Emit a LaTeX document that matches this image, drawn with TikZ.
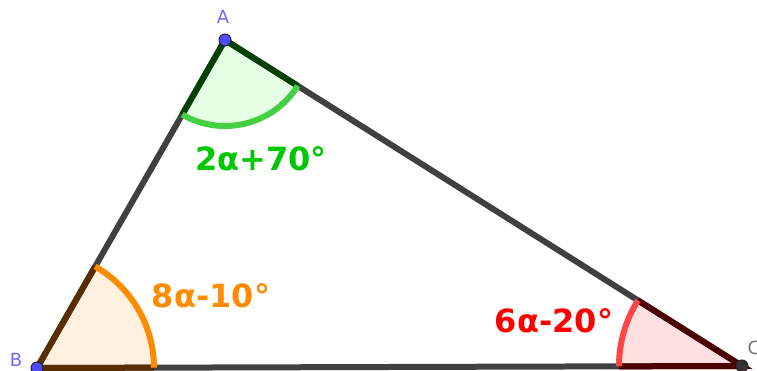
\documentclass[tikz,border=0pt]{standalone}
\usepackage{fontspec}
\setmainfont{DejaVu Sans}
\usetikzlibrary{
    angles,
    calc
}
\definecolor{lado}{HTML}{404040}
\definecolor{punto}{HTML}{4D4DFF}
\definecolor{etiq}{HTML}{6A6AFF}
\definecolor{verde}{HTML}{44D044}
\definecolor{verdeT}{HTML}{00C800}
\definecolor{naranja}{HTML}{FF8C00}
\definecolor{rojo}{HTML}{FF4646}
\tikzset{
    lado/.style={
        draw=lado,
        line width=6pt
    },
    vertice/.style={
        circle,
        fill=punto,
        draw=black!85,
        line width=1pt,
        minimum size=12pt,
        inner sep=0pt
    },
    nombre/.style={
        text=etiq,
        font=\fontsize{18}{18}\selectfont
    },
    medida/.style={
        font=\fontsize{32}{32}\selectfont\bfseries
    }
}

\begin{document}
\begin{tikzpicture}[x=1pt, y=1pt]

    \useasboundingbox (0,0) rectangle (757,371);

    % Vertices
    \coordinate (A) at (225,331);
    \coordinate (B) at (37,3);
    \coordinate (C) at (742,5);

    % Angulos (relleno)
    \pic[fill=green!10, angle radius=86pt] {angle=B--A--C};
    \pic[fill=orange!12, angle radius=117pt] {angle=C--B--A};
    \pic[fill=red!12, angle radius=123pt] {angle=A--C--B};

    % Lados
    \draw[lado] (A) -- (B) -- (C) -- cycle;

    % Lados dentro de los angulos
    \draw[line width=6pt, draw=green!25!black]
        ($(A)!86pt!(B)$) -- (A) -- ($(A)!86pt!(C)$);
    \draw[line width=6pt, draw=orange!35!black]
        ($(B)!117pt!(C)$) -- (B) -- ($(B)!117pt!(A)$);
    \draw[line width=6pt, draw=red!30!black]
        ($(C)!123pt!(A)$) -- (C) -- ($(C)!123pt!(B)$);

    % Arcos
    \pic[draw=verde, line width=6pt, angle radius=86pt] {angle=B--A--C};
    \pic[draw=naranja, line width=6pt, angle radius=117pt] {angle=C--B--A};
    \pic[draw=rojo, line width=6pt, angle radius=123pt] {angle=A--C--B};

    % Puntos
    \node[vertice] (pA) at (A) {};
    \node[vertice] (pB) at (B) {};
    \node[vertice, fill=black!80] (pC) at (C) {};

    \node[nombre] (lA) at (223,354) {A};
    \node[nombre] (lB) at (16,11) {B};
    \node[nombre, text=black!55] (lC) at (754,23) {C};

    % Medidas
    \node[medida, text=verdeT] (mA) at (261,212) {2α+70°};
    \node[medida, text=naranja] (mB) at (211,75) {8α-10°};
    \node[medida, text=red] (mC) at (554,50) {6α-20°};

\end{tikzpicture}
\end{document}
